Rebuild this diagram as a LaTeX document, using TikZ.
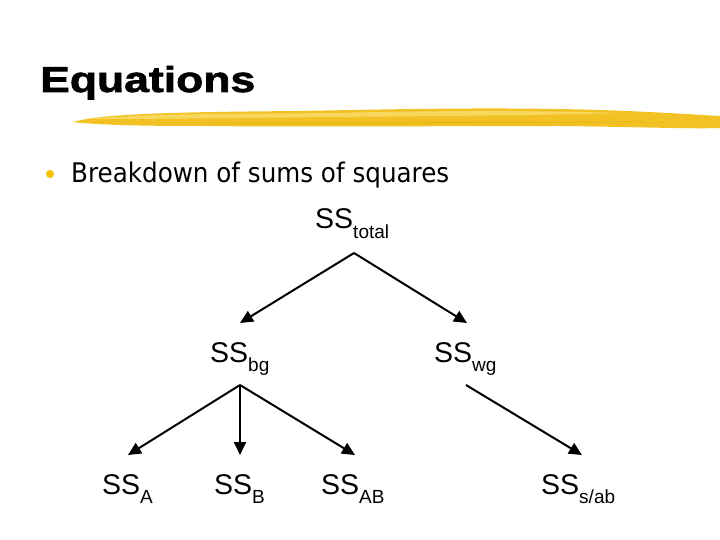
\documentclass[tikz,border=0pt]{standalone}
\usepackage{fontspec}
\setmainfont{Liberation Sans}
\newfontfamily\bulletfont{DejaVu Sans}
\newfontfamily\titlefont[FakeBold=1.6]{Liberation Sans Bold}
\usepackage{graphicx}
\usetikzlibrary{arrows.meta}
\definecolor{brushyellow}{RGB}{242,194,36}
\definecolor{brushlight}{RGB}{250,224,120}
\definecolor{brushdark}{RGB}{236,182,20}
\definecolor{bulletyellow}{RGB}{244,192,0}
\tikzset{
  ss/.style={inner sep=0pt, anchor=base west, font=\fontsize{28.5}{32}\selectfont},
  arr/.style={line width=2pt, -{Triangle[length=13pt,width=12pt]}},
  txt/.style={inner sep=0pt, anchor=base west}
}
\newcommand{\sub}[1]{\raisebox{-9.5pt}{\fontsize{19}{21}\selectfont #1}}
\begin{document}
\begin{tikzpicture}[x=1pt,y=-1pt]
\useasboundingbox (0,0) rectangle (720,540);
\fill[white] (0,0) rectangle (720,540);
% brush stroke
\fill[brushyellow] (73,122) .. controls (100,114) and (170,112) .. (300,111)
  .. controls (400,109) and (500,107) .. (600,110)
  .. controls (660,112) and (700,115) .. (720,116) -- (720,128)
  .. controls (690,129) and (640,127) .. (560,126)
  .. controls (450,126) and (300,127) .. (200,126)
  .. controls (140,126) and (100,125) .. (73,122) -- cycle;
\fill[brushlight, opacity=0.7] (90,119) .. controls (150,113) and (250,114) .. (330,113)
  .. controls (420,111) and (520,110) .. (620,113)
  .. controls (560,115) and (450,116) .. (330,117)
  .. controls (250,118) and (150,119) .. (90,119) -- cycle;
\fill[brushdark, opacity=0.6] (150,123) .. controls (300,121) and (500,120) .. (700,122)
  .. controls (500,124) and (300,125) .. (150,123) -- cycle;
% title
\node[txt] (title) at (40,92) {\resizebox{215pt}{\height}{\titlefont\fontsize{36}{40}\selectfont Equations}};
% bullet
\fill[bulletyellow] (50,174) circle (4);
\node[txt] (bt) at (71,183) {\resizebox{378pt}{\height}{\bulletfont\fontsize{27}{32}\selectfont Breakdown of sums of squares}};
% tree nodes
\node[ss] (total) at (315,229) {SS\sub{total}};
\node[ss] (bg) at (210,362) {SS\sub{bg}};
\node[ss] (wg) at (434,362) {SS\sub{wg}};
\node[ss] (A) at (102,494) {SS\sub{A}};
\node[ss] (B) at (214,494) {SS\sub{B}};
\node[ss] (AB) at (321,494) {SS\sub{AB}};
\node[ss] (sab) at (541,494) {SS\sub{s/ab}};
% connector end points
\coordinate (total-o) at (354,253);
\coordinate (bg-i) at (240,323);
\coordinate (wg-i) at (467,323);
\coordinate (bg-o) at (240,385);
\coordinate (wg-o) at (466,385);
\coordinate (A-i) at (128,455);
\coordinate (B-i) at (240,455);
\coordinate (AB-i) at (355,455);
\coordinate (sab-i) at (582,455);
\draw[arr] (total-o) -- (bg-i);
\draw[arr] (total-o) -- (wg-i);
\draw[arr] (bg-o) -- (A-i);
\draw[arr] (bg-o) -- (B-i);
\draw[arr] (bg-o) -- (AB-i);
\draw[arr] (wg-o) -- (sab-i);
\end{tikzpicture}
\end{document}
